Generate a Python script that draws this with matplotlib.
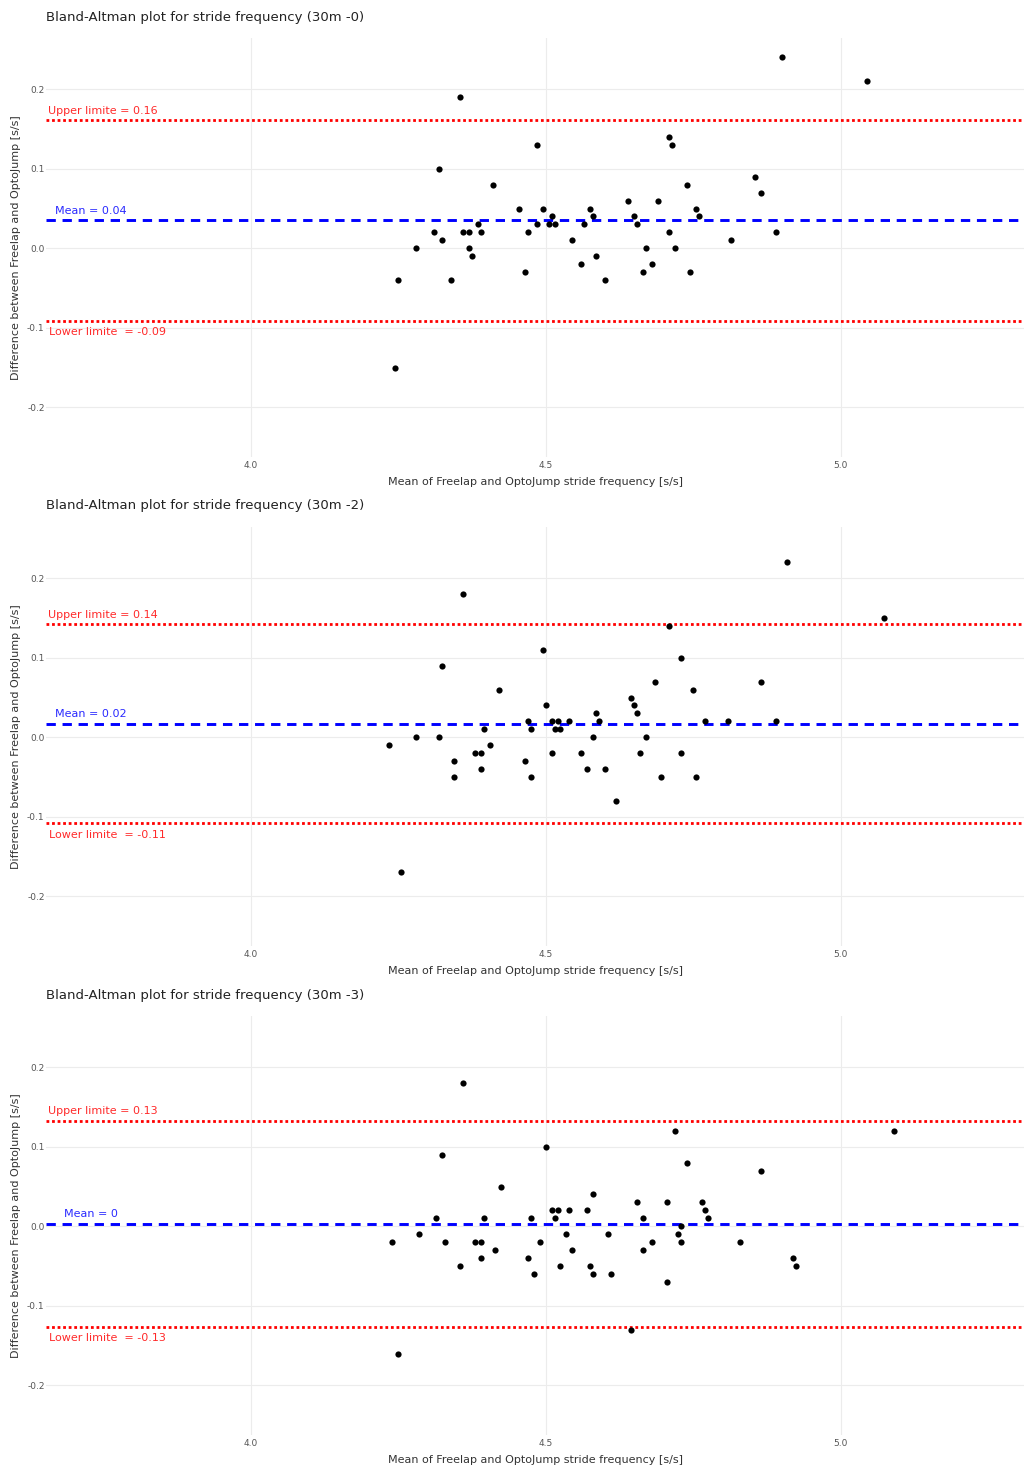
import matplotlib
matplotlib.use("Agg")
import matplotlib.pyplot as plt

plt.rcParams['font.family'] = ['DejaVu Sans']

# ---- data (mean, difference) ----
titles = ["Bland-Altman plot for stride frequency (30m -0)",
          "Bland-Altman plot for stride frequency (30m -2)",
          "Bland-Altman plot for stride frequency (30m -3)"]

mean0 = [4.245, 4.250, 4.280, 4.310, 4.320, 4.325, 4.340, 4.355, 4.360, 4.370,
         4.370, 4.375, 4.385, 4.390, 4.410, 4.455, 4.465, 4.470, 4.486, 4.486,
         4.495, 4.505, 4.510, 4.516, 4.545, 4.560, 4.565, 4.575, 4.580, 4.585,
         4.600, 4.640, 4.650, 4.655, 4.665, 4.670, 4.680, 4.690, 4.710, 4.710,
         4.715, 4.720, 4.740, 4.745, 4.755, 4.760, 4.815, 4.855, 4.865, 4.890,
         4.900, 5.044]
diff0 = [-0.15, -0.04, 0.00, 0.02, 0.10, 0.01, -0.04, 0.19, 0.02, 0.02,
         0.00, -0.01, 0.03, 0.02, 0.08, 0.05, -0.03, 0.02, 0.13, 0.03,
         0.05, 0.03, 0.04, 0.03, 0.01, -0.02, 0.03, 0.05, 0.04, -0.01,
         -0.04, 0.06, 0.04, 0.03, -0.03, 0.00, -0.02, 0.06, 0.14, 0.02,
         0.13, 0.00, 0.08, -0.03, 0.05, 0.04, 0.01, 0.09, 0.07, 0.02,
         0.24, 0.21]

mean2 = [4.235, 4.255, 4.280, 4.320, 4.325, 4.345, 4.345, 4.360, 4.380, 4.390,
         4.390, 4.395, 4.405, 4.421, 4.465, 4.470, 4.475, 4.475, 4.495, 4.500,
         4.510, 4.510, 4.516, 4.521, 4.525, 4.540, 4.560, 4.570, 4.580, 4.585,
         4.590, 4.600, 4.620, 4.645, 4.650, 4.655, 4.660, 4.670, 4.685, 4.695,
         4.710, 4.730, 4.730, 4.750, 4.755, 4.770, 4.810, 4.865, 4.890, 4.909,
         5.074]
diff2 = [-0.01, -0.17, 0.00, 0.00, 0.09, -0.03, -0.05, 0.18, -0.02, -0.02,
         -0.04, 0.01, -0.01, 0.06, -0.03, 0.02, 0.01, -0.05, 0.11, 0.04,
         0.02, -0.02, 0.01, 0.02, 0.01, 0.02, -0.02, -0.04, 0.00, 0.03,
         0.02, -0.04, -0.08, 0.05, 0.04, 0.03, -0.02, 0.00, 0.07, -0.05,
         0.14, 0.10, -0.02, 0.06, -0.05, 0.02, 0.02, 0.07, 0.02, 0.22,
         0.15]

mean3 = [4.240, 4.250, 4.285, 4.315, 4.325, 4.330, 4.355, 4.360, 4.380, 4.390,
         4.390, 4.395, 4.415, 4.425, 4.470, 4.475, 4.480, 4.491, 4.500, 4.510,
         4.516, 4.521, 4.525, 4.535, 4.540, 4.545, 4.570, 4.575, 4.580, 4.580,
         4.605, 4.610, 4.645, 4.655, 4.665, 4.665, 4.680, 4.705, 4.705, 4.720,
         4.725, 4.730, 4.730, 4.740, 4.765, 4.770, 4.775, 4.830, 4.865, 4.920,
         4.925, 5.090]
diff3 = [-0.02, -0.16, -0.01, 0.01, 0.09, -0.02, -0.05, 0.18, -0.02, -0.02,
         -0.04, 0.01, -0.03, 0.05, -0.04, 0.01, -0.06, -0.02, 0.10, 0.02,
         0.01, 0.02, -0.05, -0.01, 0.02, -0.03, 0.02, -0.05, 0.04, -0.06,
         -0.01, -0.06, -0.13, 0.03, 0.01, -0.03, -0.02, 0.03, -0.07, 0.12,
         -0.01, 0.00, -0.02, 0.08, 0.03, 0.02, 0.01, -0.02, 0.07, -0.04,
         -0.05, 0.12]

means_line = [0.035, 0.017, 0.003]
upper_line = [0.161, 0.142, 0.1325]
lower_line = [-0.091, -0.108, -0.1266]
mean_txt = ["0.04", "0.02", "0"]
upper_txt = ["0.16", "0.14", "0.13"]
lower_txt = ["-0.09", "-0.11", "-0.13"]

xs = [mean0, mean2, mean3]
ys = [diff0, diff2, diff3]

W, H = 1024, 1473
fig = plt.figure(figsize=(W / 100, H / 100), dpi=100)

tops = [38, 527, 1016]
panel_h = 419
left, right = 46, 1024
mean_lbl_x = [55, 55, 64]

grid_c = '#ececec'
tick_c = '#555555'

for i in range(3):
    top = tops[i]
    ax = fig.add_axes([left / W, 1 - (top + panel_h) / H,
                       (right - left) / W, panel_h / H])
    ax.set_xlim(3.653, 5.311)
    ax.set_ylim(-0.2625, 0.2645)
    for s in ax.spines.values():
        s.set_visible(False)
    ax.set_xticks([4.0, 4.5, 5.0])
    ax.set_xticklabels(["4.0", "4.5", "5.0"])
    ax.set_yticks([-0.2, -0.1, 0.0, 0.1, 0.2])
    ax.set_yticklabels(["-0.2", "-0.1", "0.0", "0.1", "0.2"])
    ax.tick_params(axis='y', length=0, labelsize=6.5, labelcolor=tick_c, pad=1)
    ax.tick_params(axis='x', length=0, labelsize=6.5, labelcolor=tick_c, pad=3)
    ax.grid(True, color=grid_c, linewidth=0.8)
    ax.set_axisbelow(True)

    ax.scatter(xs[i], ys[i], s=20, color='black', zorder=3, linewidths=0)

    ax.axhline(upper_line[i], color='red', lw=2.0, dashes=(1, 1), zorder=2)
    ax.axhline(lower_line[i], color='red', lw=2.0, dashes=(1, 1), zorder=2)
    ax.axhline(means_line[i], color='blue', lw=2.1, dashes=(3.2, 2.3), zorder=2)

    trans = ax.get_yaxis_transform()
    ax.text(0.002, upper_line[i] + 0.006, "Upper limite = " + upper_txt[i],
            transform=trans, color='#ff2a2a', fontsize=8, va='bottom', ha='left')
    ax.text((mean_lbl_x[i] - left) / (right - left), means_line[i] + 0.006,
            "Mean = " + mean_txt[i],
            transform=trans, color='#2a2aff', fontsize=8, va='bottom', ha='left')
    ax.text(0.003, lower_line[i] - 0.008, "Lower limite  = " + lower_txt[i],
            transform=trans, color='#ff2a2a', fontsize=8, va='top', ha='left')

    ax.set_xlabel("Mean of Freelap and OptoJump stride frequency [s/s]",
                  fontsize=8, color='#333333', labelpad=5)
    ax.set_ylabel("Difference between Freelap and OptoJump [s/s]",
                  fontsize=8, color='#333333', labelpad=4)
    fig.text(left / W, 1 - (top - 21) / H, titles[i], fontsize=9.5,
             color='#222222', va='center', ha='left')

fig.savefig("out.png", dpi=100)
